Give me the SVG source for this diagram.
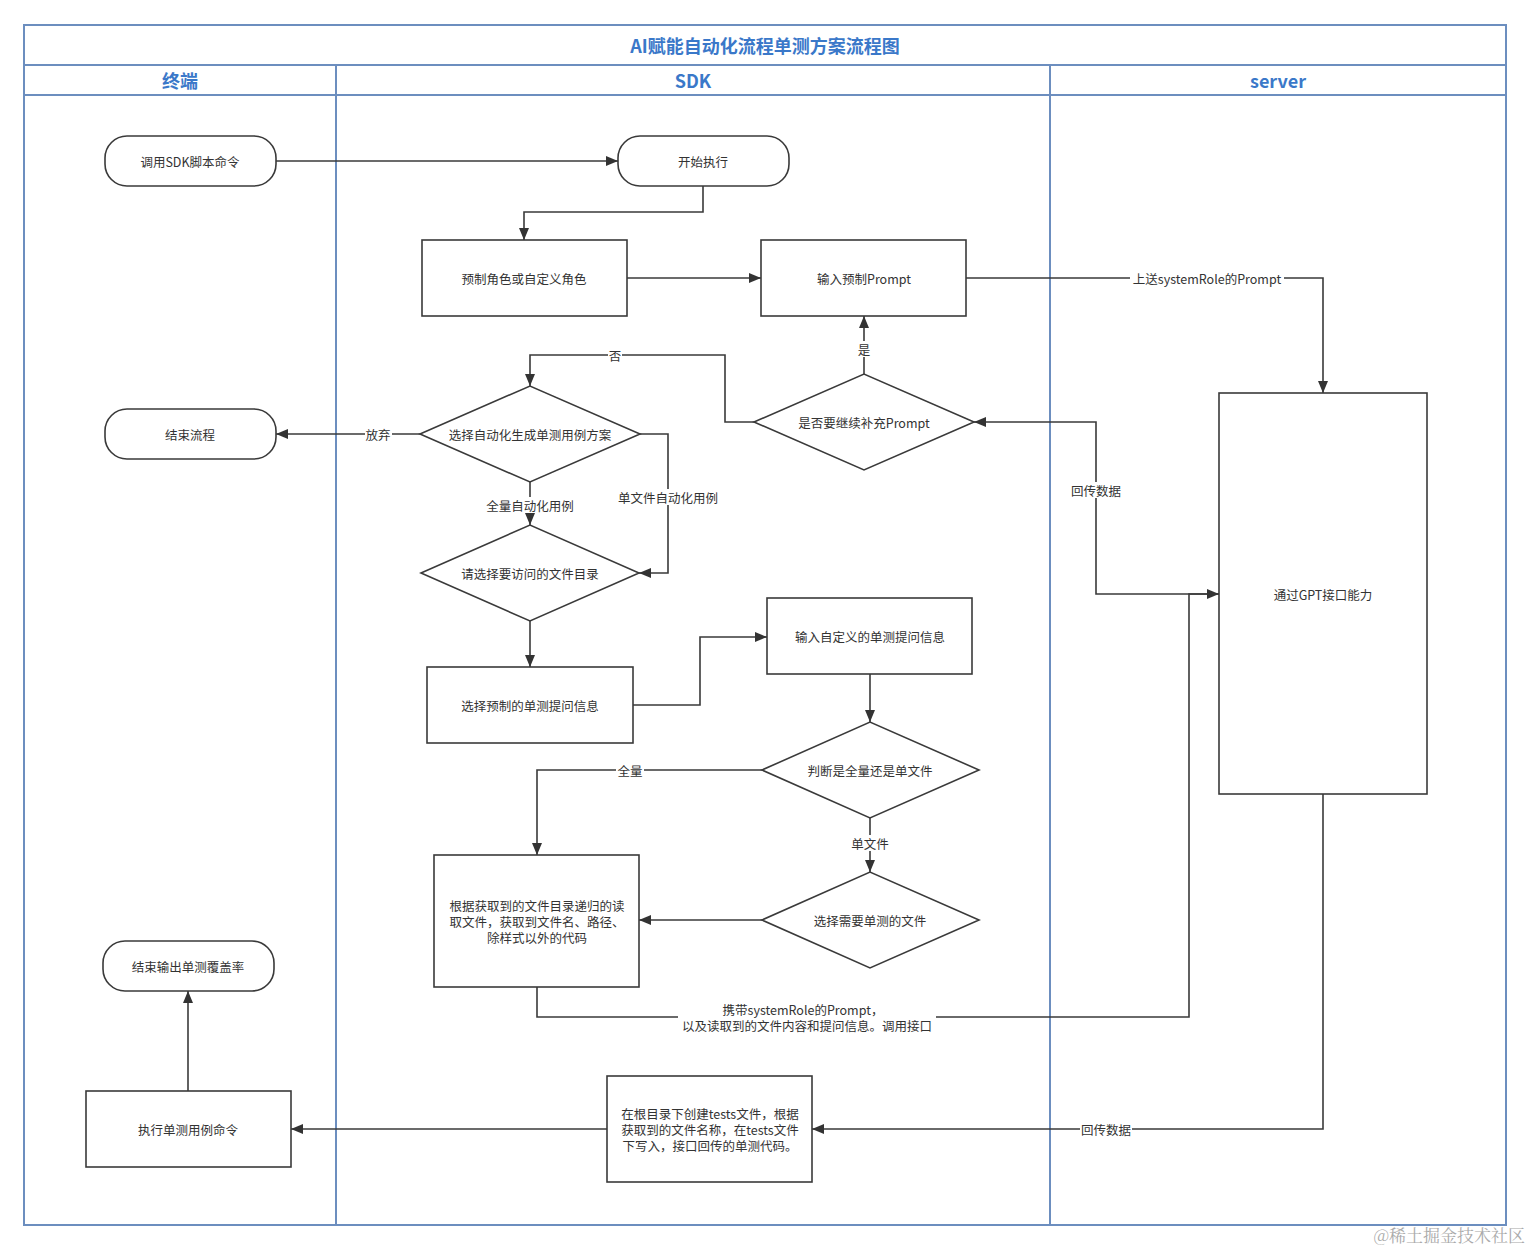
<svg xmlns="http://www.w3.org/2000/svg" width="1531" height="1251" viewBox="0 0 1531 1251">
<defs>
<style>
.lane{fill:none;stroke:#6c8ebf;stroke-width:2}
.hd{font-family:"Noto Sans CJK SC","Liberation Sans",sans-serif;font-weight:bold;fill:#3a78c9;text-anchor:middle;dominant-baseline:central}
.nd{fill:#fff;stroke:#3a3a3a;stroke-width:1.6}
.t{font-family:"Noto Sans CJK SC","Liberation Sans",sans-serif;font-size:12.5px;fill:#333;text-anchor:middle;dominant-baseline:central}
.c{fill:none;stroke:#3a3a3a;stroke-width:1.6}
.lb{font-family:"Noto Sans CJK SC","Liberation Sans",sans-serif;font-size:12.5px;fill:#333;text-anchor:middle;dominant-baseline:central}
.bg{fill:#fff}
</style>
<marker id="ar" viewBox="0 0 12 10" refX="12" refY="5" markerWidth="12" markerHeight="10" markerUnits="userSpaceOnUse" orient="auto">
<path d="M0,0 L12,5 L0,10 Z" fill="#333"/>
</marker>
</defs>
<rect width="1531" height="1251" fill="#fff"/>
<g id="pool">
<rect class="lane" x="24" y="25" width="1482" height="1200"/>
<line class="lane" x1="24" y1="65" x2="1506" y2="65"/>
<line class="lane" x1="24" y1="95" x2="1506" y2="95"/>
<line class="lane" x1="336" y1="65" x2="336" y2="1225"/>
<line class="lane" x1="1050" y1="65" x2="1050" y2="1225"/>
<text class="hd" x="765" y="45" font-size="18">AI赋能自动化流程单测方案流程图</text>
<text class="hd" x="180" y="80" font-size="18">终端</text>
<text class="hd" x="693" y="80" font-size="18">SDK</text>
<text class="hd" x="1278" y="80" font-size="18">server</text>
</g>
<g id="connectors">
<path class="c" d="M276,161 H618" marker-end="url(#ar)"/>
<path class="c" d="M703,186 V212 H524 V240" marker-end="url(#ar)"/>
<path class="c" d="M627,278 H761" marker-end="url(#ar)"/>
<path class="c" d="M966,278 H1323 V393" marker-end="url(#ar)"/>
<path class="c" d="M864,374 V316" marker-end="url(#ar)"/>
<path class="c" d="M754,422 H725 V355 H530 V386" marker-end="url(#ar)"/>
<path class="c" d="M1219,594 H1096 V422 H974" marker-end="url(#ar)"/>
<path class="c" d="M420,434 H276" marker-end="url(#ar)"/>
<path class="c" d="M530,482 V525" marker-end="url(#ar)"/>
<path class="c" d="M640,434 H668 V573 H639" marker-end="url(#ar)"/>
<path class="c" d="M530,621 V667" marker-end="url(#ar)"/>
<path class="c" d="M633,705 H700 V637 H767" marker-end="url(#ar)"/>
<path class="c" d="M870,674 V722" marker-end="url(#ar)"/>
<path class="c" d="M762,770 H537 V855" marker-end="url(#ar)"/>
<path class="c" d="M870,818 V872" marker-end="url(#ar)"/>
<path class="c" d="M762,920 H639" marker-end="url(#ar)"/>
<path class="c" d="M537,987 V1017 H1189 V594 H1219" marker-end="url(#ar)"/>
<path class="c" d="M1323,794 V1129 H812" marker-end="url(#ar)"/>
<path class="c" d="M607,1129 H291" marker-end="url(#ar)"/>
<path class="c" d="M188,1091 V991" marker-end="url(#ar)"/>
<rect class="bg" x="1130" y="270" width="154" height="16"/>
<text class="lb" x="1207" y="278">上送systemRole的Prompt</text>
<rect class="bg" x="857" y="341" width="14" height="16"/>
<text class="lb" x="864" y="349">是</text>
<rect class="bg" x="608" y="347" width="14" height="16"/>
<text class="lb" x="615" y="355">否</text>
<rect class="bg" x="1070" y="482" width="52" height="16"/>
<text class="lb" x="1096" y="490">回传数据</text>
<rect class="bg" x="365" y="426" width="27" height="16"/>
<text class="lb" x="378" y="434">放弃</text>
<rect class="bg" x="484" y="497" width="92" height="16"/>
<text class="lb" x="530" y="505">全量自动化用例</text>
<rect class="bg" x="617" y="489" width="104" height="16"/>
<text class="lb" x="668" y="497">单文件自动化用例</text>
<rect class="bg" x="616" y="762" width="28" height="16"/>
<text class="lb" x="630" y="770">全量</text>
<rect class="bg" x="850" y="835" width="40" height="16"/>
<text class="lb" x="870" y="843">单文件</text>
<rect class="bg" x="678" y="1001" width="258" height="32"/>
<text class="lb" x="803" y="1009">携带systemRole的Prompt，</text>
<text class="lb" x="807" y="1025">以及读取到的文件内容和提问信息。调用接口</text>
<rect class="bg" x="1080" y="1121" width="52" height="16"/>
<text class="lb" x="1106" y="1129">回传数据</text>
</g>
<g id="n-call"><rect class="nd" x="105" y="136" width="171" height="50" rx="22"/><text class="t" x="190" y="161">调用SDK脚本命令</text></g>
<g id="n-start"><rect class="nd" x="618" y="136" width="171" height="50" rx="22"/><text class="t" x="703" y="161">开始执行</text></g>
<g id="n-role"><rect class="nd" x="422" y="240" width="205" height="76"/><text class="t" x="524" y="278">预制角色或自定义角色</text></g>
<g id="n-prompt"><rect class="nd" x="761" y="240" width="205" height="76"/><text class="t" x="864" y="278">输入预制Prompt</text></g>
<g id="n-more"><path class="nd" d="M754,422 L864,374 L974,422 L864,470 Z"/><text class="t" x="864" y="422">是否要继续补充Prompt</text></g>
<g id="n-plan"><path class="nd" d="M420,434 L530,386 L640,434 L530,482 Z"/><text class="t" x="530" y="434">选择自动化生成单测用例方案</text></g>
<g id="n-end"><rect class="nd" x="105" y="409" width="171" height="50" rx="22"/><text class="t" x="190" y="434">结束流程</text></g>
<g id="n-dir"><path class="nd" d="M421,573 L530,525 L639,573 L530,621 Z"/><text class="t" x="530" y="573">请选择要访问的文件目录</text></g>
<g id="n-preset"><rect class="nd" x="427" y="667" width="206" height="76"/><text class="t" x="530" y="705">选择预制的单测提问信息</text></g>
<g id="n-custom"><rect class="nd" x="767" y="598" width="205" height="76"/><text class="t" x="870" y="636">输入自定义的单测提问信息</text></g>
<g id="n-judge"><path class="nd" d="M762,770 L870,722 L979,770 L870,818 Z"/><text class="t" x="870" y="770">判断是全量还是单文件</text></g>
<g id="n-read"><rect class="nd" x="434" y="855" width="205" height="132"/><text class="t" x="537" y="905">根据获取到的文件目录递归的读</text><text class="t" x="537" y="921">取文件，获取到文件名、路径、</text><text class="t" x="537" y="937">除样式以外的代码</text></g>
<g id="n-file"><path class="nd" d="M762,920 L870,872 L979,920 L870,968 Z"/><text class="t" x="870" y="920">选择需要单测的文件</text></g>
<g id="n-cover"><rect class="nd" x="103" y="941" width="171" height="50" rx="22"/><text class="t" x="188" y="966">结束输出单测覆盖率</text></g>
<g id="n-exec"><rect class="nd" x="86" y="1091" width="205" height="76"/><text class="t" x="188" y="1129">执行单测用例命令</text></g>
<g id="n-write"><rect class="nd" x="607" y="1076" width="205" height="106"/><text class="t" x="710" y="1113">在根目录下创建tests文件，根据</text><text class="t" x="710" y="1129">获取到的文件名称，在tests文件</text><text class="t" x="710" y="1145">下写入，接口回传的单测代码。</text></g>
<g id="n-gpt"><rect class="nd" x="1219" y="393" width="208" height="401"/><text class="t" x="1323" y="594">通过GPT接口能力</text></g>
<text x="1525" y="1234" font-family="'Noto Serif CJK SC','Liberation Serif',serif" font-size="17" fill="#aaa" text-anchor="end" dominant-baseline="central">@稀土掘金技术社区</text>
</svg>
